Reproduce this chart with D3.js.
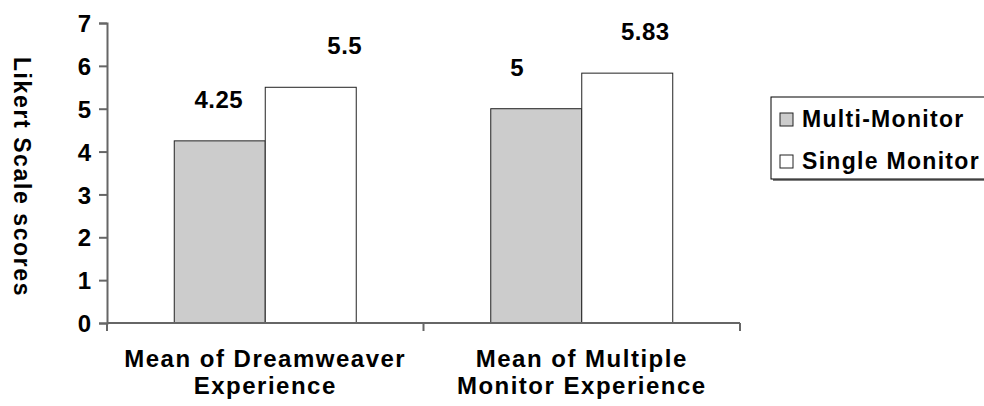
<!DOCTYPE html>
<html lang="en">
<head>
  <meta charset="UTF-8">
  <title>Likert Scale scores</title>
  <style>
    body { margin: 0; background: #fff; }
    text { font-family: "Liberation Sans", Arial, sans-serif; font-weight: bold; fill: #000; }
  </style>
</head>
<body>
  <svg id="svg" width="984" height="406"></svg>

  <script src="https://d3js.org/d3.v7.min.js"></script>
  <script>
    const categories = [['Mean of Dreamweaver', 'Experience'], ['Mean of Multiple', 'Monitor Experience']]
    const series = ['Multi-Monitor', 'Single Monitor']
    const multiMonitor = [4.25, 5]
    const singleMonitor = [5.5, 5.83]
    const yTicks = [0, 1, 2, 3, 4, 5, 6, 7]

    const svg = d3.select('#svg')
    const colors = ['#cccccc', '#ffffff']
    const values = [multiMonitor, singleMonitor]

    // plot area
    const plotL = 107, plotR = 740, plotT = 23, plotB = 323

    const x = d3.scaleBand()
      .domain(d3.range(categories.length))
      .range([plotL, plotR])
      .paddingInner(0)
      .paddingOuter(0)

    const y = d3.scaleLinear()
      .domain([0, 7])
      .range([plotB, plotT])

    const barW = x.bandwidth() * 0.2875
    const groupOff = (x.bandwidth() - barW * 2) / 2

    // bars
    values.forEach((vals, s) => {
      svg.append('g')
        .selectAll('rect')
        .data(vals)
        .enter()
        .append('rect')
        .attr('x', (d, i) => x(i) + groupOff + s * barW)
        .attr('y', d => y(d))
        .attr('width', barW)
        .attr('height', d => y(0) - y(d))
        .attr('fill', colors[s])
        .attr('stroke', '#222')
        .attr('stroke-width', 1)
    })

    // data labels (Excel had them dragged a bit sideways)
    const nudge = [[-1, 34], [-19, 18]]
    values.forEach((vals, s) => {
      svg.append('g')
        .selectAll('text')
        .data(vals)
        .enter()
        .append('text')
        .attr('x', (d, i) => x(i) + groupOff + s * barW + barW / 2 + nudge[i][s])
        .attr('y', d => y(d) - 33)
        .attr('text-anchor', 'middle')
        .style('font-size', '24px')
        .style('letter-spacing', '0.5px')
        .text(d => d)
    })

    // y axis
    const yAxis = svg.append('g')
      .attr('transform', `translate(${plotL},0)`)
      .call(d3.axisLeft(y).tickValues(yTicks).tickSize(8).tickPadding(8).tickFormat(d3.format('d')))
    yAxis.select('.domain').attr('stroke', '#666').attr('stroke-width', 2)
    yAxis.selectAll('.tick line').attr('stroke', '#666').attr('stroke-width', 2)
    yAxis.selectAll('.tick text')
      .attr('dy', '0.36em')
      .style('font-size', '24px')
      .style('font-family', '"Liberation Sans", Arial, sans-serif')
      .style('font-weight', 'bold')
      .attr('fill', '#000')

    // x axis
    const xAxis = svg.append('g')
      .attr('transform', `translate(0,${plotB})`)
    xAxis.append('line')
      .attr('x1', plotL).attr('x2', plotR)
      .attr('stroke', '#666').attr('stroke-width', 2)
    xAxis.selectAll('.xt')
      .data([0, 1, 2])
      .enter()
      .append('line')
      .attr('x1', d => plotL + d * x.bandwidth())
      .attr('x2', d => plotL + d * x.bandwidth())
      .attr('y1', 0).attr('y2', 8)
      .attr('stroke', '#666').attr('stroke-width', 2)

    // category labels
    categories.forEach((lines, i) => {
      svg.append('text')
        .attr('x', x(i) + x.bandwidth() / 2)
        .attr('y', 367)
        .attr('text-anchor', 'middle')
        .style('font-size', '24px')
        .style('letter-spacing', '1.5px')
        .selectAll('tspan')
        .data(lines)
        .enter()
        .append('tspan')
        .attr('x', x(i) + x.bandwidth() / 2)
        .attr('dy', (d, j) => j === 0 ? 0 : 27)
        .text(d => d)
    })

    // y axis title
    svg.append('text')
      .attr('transform', 'translate(14,177) rotate(90)')
      .attr('text-anchor', 'middle')
      .style('font-size', '23px')
      .style('letter-spacing', '1.6px')
      .text('Likert Scale scores')

    // legend
    const legend = svg.append('g')
    legend.append('rect')
      .attr('x', 773).attr('y', 99)
      .attr('width', 240).attr('height', 82)
      .attr('fill', '#808080')
    legend.append('rect')
      .attr('x', 771).attr('y', 97)
      .attr('width', 240).attr('height', 82)
      .attr('fill', '#fff')
      .attr('stroke', '#000')
      .attr('stroke-width', 1)
    const items = legend.selectAll('.item')
      .data(series)
      .enter()
      .append('g')
      .attr('transform', (d, i) => `translate(780,${113 + i * 42})`)
    items.append('rect')
      .attr('width', 13).attr('height', 13)
      .attr('fill', (d, i) => colors[i])
      .attr('stroke', '#222')
    items.append('text')
      .attr('x', 22).attr('y', 14)
      .style('font-size', '23px')
      .style('letter-spacing', '1.3px')
      .text(d => d)
  </script>
</body>
</html>
